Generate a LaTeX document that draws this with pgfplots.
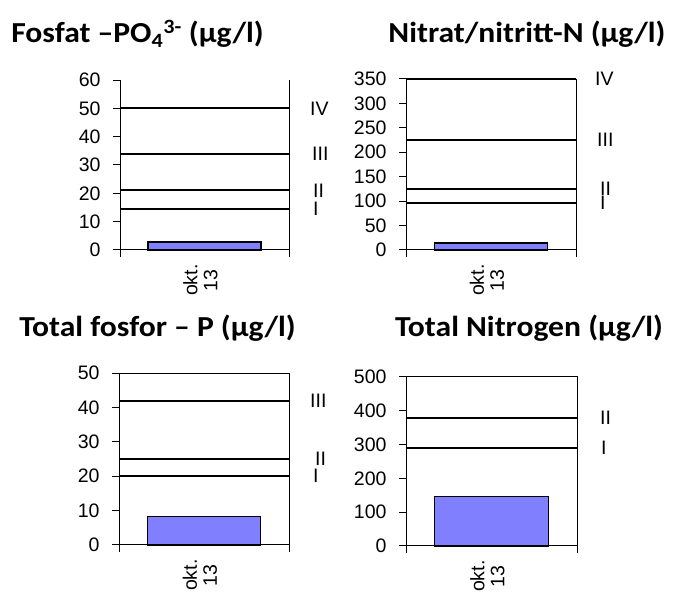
\documentclass[border=0pt]{standalone}
\usepackage{pgfplots}
\pgfplotsset{compat=1.18}
\usepackage{fontspec}
\setmainfont{Liberation Sans}
\newfontfamily\titlefont[FakeStretch=1.09]{Carlito}
\newcommand\tickfont{\fontsize{19.5}{20}\selectfont}
\newcommand\ttlfont{\titlefont\bfseries\fontsize{29}{32}\selectfont}
\definecolor{barblue}{RGB}{128,128,255}

\pgfplotsset{
  panel/.style={
    scale only axis, anchor=south west, clip=false,
    xmin=0, xmax=1, ymin=0,
    axis x line*=bottom, axis y line*=left,
    axis line style={-, black, line width=1pt},
    xtick={0,1}, xticklabels={,},
    tick align=outside, major tick length=7pt,
    every tick/.style={black, line width=1pt},
    minor tick num=0,
    /pgf/number format/assume math mode=true,
    yticklabel style={font=\tickfont, xshift=-9pt},
    extra x ticks={0.5}, extra x tick labels={okt.\\13},
    extra x tick style={major tick length=0pt,
      xticklabel style={rotate=90, anchor=east, align=center, font=\tickfont, xshift=-11pt, yshift=4pt}},
  },
  lvl/.style={black, line width=2pt, no marks, forget plot},
}
\tikzset{lbl/.style={anchor=west, font=\tickfont, inner sep=0pt}}

\begin{document}
\begin{tikzpicture}
\useasboundingbox (0,0) rectangle (673pt,592pt);

% Panel 1: Fosfat
\begin{axis}[panel, at={(120pt,342pt)}, width=169pt, height=170pt,
  ymax=60, ytick={0,10,...,60}]
  \addplot[ybar, bar width=0.667, fill=barblue, draw=black, line width=1.5pt] coordinates {(0.5,2.8)};
  \addplot[lvl] coordinates {(0,14.5) (1,14.5)};
  \addplot[lvl] coordinates {(0,21) (1,21)};
  \addplot[lvl] coordinates {(0,34) (1,34)};
  \addplot[lvl] coordinates {(0,50) (1,50)};
  \draw[black, line width=1pt] (rel axis cs:1,0) -- (rel axis cs:1,1);
  \node[lbl, xshift=21pt] at (axis cs:1,50) {IV};
  \node[lbl, xshift=23pt] at (axis cs:1,34) {III};
  \node[lbl, xshift=24pt] at (axis cs:1,21) {II};
  \node[lbl, xshift=24pt] at (axis cs:1,14.5) {I};
\end{axis}

% Panel 2: Nitrat/nitritt-N
\begin{axis}[panel, at={(406pt,342pt)}, width=170pt, height=171pt,
  ymax=350, ytick={0,50,...,350}]
  \addplot[ybar, bar width=0.667, fill=barblue, draw=black, line width=1.5pt] coordinates {(0.5,14)};
  \addplot[lvl] coordinates {(0,97) (1,97)};
  \addplot[lvl] coordinates {(0,125) (1,125)};
  \addplot[lvl] coordinates {(0,225) (1,225)};
  \addplot[lvl] coordinates {(0,350) (1,350)};
  \draw[black, line width=1pt] (rel axis cs:1,0) -- (rel axis cs:1,1);
  \node[lbl, xshift=19pt] at (axis cs:1,350) {IV};
  \node[lbl, xshift=21pt] at (axis cs:1,225) {III};
  \node[lbl, xshift=24pt] at (axis cs:1,125) {II};
  \node[lbl, xshift=24pt] at (axis cs:1,97) {I};
\end{axis}

% Panel 3: Total fosfor
\begin{axis}[panel, at={(119pt,47pt)}, width=170pt, height=172pt,
  ymax=50, ytick={0,10,...,50}]
  \addplot[ybar, bar width=0.667, fill=barblue, draw=black, line width=1.5pt] coordinates {(0.5,8.3)};
  \addplot[lvl] coordinates {(0,20) (1,20)};
  \addplot[lvl] coordinates {(0,25) (1,25)};
  \addplot[lvl] coordinates {(0,42) (1,42)};
  \draw[black, line width=1pt] (rel axis cs:0,1) -- (rel axis cs:1,1) -- (rel axis cs:1,0);
  \node[lbl, xshift=21pt] at (axis cs:1,42) {III};
  \node[lbl, xshift=26pt] at (axis cs:1,25) {II};
  \node[lbl, xshift=24pt] at (axis cs:1,20) {I};
\end{axis}

% Panel 4: Total Nitrogen
\begin{axis}[panel, at={(406pt,46pt)}, width=171pt, height=169pt,
  ymax=500, ytick={0,100,...,500}]
  \addplot[ybar, bar width=0.667, fill=barblue, draw=black, line width=1.5pt] coordinates {(0.5,147)};
  \addplot[lvl] coordinates {(0,290) (1,290)};
  \addplot[lvl] coordinates {(0,380) (1,380)};
  \draw[black, line width=1pt] (rel axis cs:0,1) -- (rel axis cs:1,1) -- (rel axis cs:1,0);
  \node[lbl, xshift=23pt] at (axis cs:1,380) {II};
  \node[lbl, xshift=24pt] at (axis cs:1,290) {I};
\end{axis}

% Titles
\node[font=\ttlfont, anchor=base] at (137.5pt,549pt) {Fosfat –PO\textsubscript{4}\textsuperscript{3-} (µg/l)};
\node[font=\ttlfont, anchor=base] at (527pt,549pt) {Nitrat/nitritt-N (µg/l)};
\node[font=\ttlfont, anchor=base] at (157.5pt,255pt) {Total fosfor – P (µg/l)};
\node[font=\ttlfont, anchor=base] at (529pt,255pt) {Total Nitrogen (µg/l)};
\end{tikzpicture}
\end{document}
